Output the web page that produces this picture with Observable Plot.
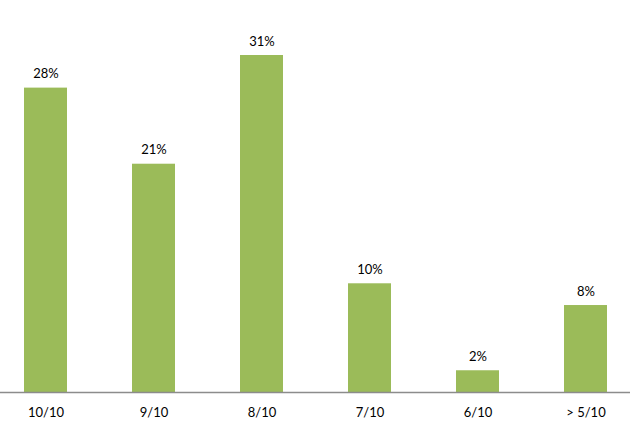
<!DOCTYPE html>
<html>
<head>
<meta charset="utf-8">
<script src="https://cdn.jsdelivr.net/npm/d3@7"></script>
<script src="https://cdn.jsdelivr.net/npm/@observablehq/plot@0.6"></script>
<style>
  html, body { margin: 0; padding: 0; background: #fff; }
  #chart { width: 630px; height: 434px; }
</style>
</head>
<body>
<div id="chart"></div>
<script>
const categories = ["10/10", "9/10", "8/10", "7/10", "6/10", "> 5/10"];
const values = [28, 21, 31, 10, 2, 8];

const data = categories.map((c, i) => ({category: c, value: values[i]}));

const chart = Plot.plot({
  width: 630,
  height: 434,
  marginLeft: 0,
  marginRight: 0,
  marginTop: 55,
  marginBottom: 42,
  style: {fontFamily: "Lato, 'Open Sans', sans-serif", fontSize: "13px", color: "#000", background: "#fff"},
  x: {domain: categories, range: [-8.5, 639.5], paddingInner: 0.6, paddingOuter: 0.3, label: null},
  y: {domain: [0, 31], axis: null},
  marks: [
    Plot.barY(data, {x: "category", y: "value", fill: "#9BBB59"}),
    Plot.ruleY([0], {stroke: "#8c8c8c", strokeWidth: 1.5}),
    Plot.text(data, {x: "category", y: "value", text: d => `${d.value}%`, dy: -14, fontSize: 13, fill: "#000"}),
    Plot.axisX({tickSize: 0, tickPadding: 15, fontSize: 13, fill: "#000"})
  ]
});
document.getElementById("chart").appendChild(chart);
</script>
</body>
</html>
